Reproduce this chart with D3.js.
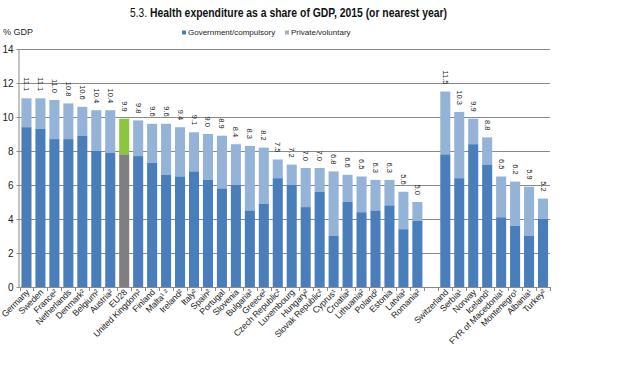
<!DOCTYPE html>
<html><head><meta charset="utf-8">
<script src="https://cdn.jsdelivr.net/npm/d3@7"></script>
<style>
body{margin:0;background:#fff;}
svg{display:block;font-family:"Liberation Sans",Arial,sans-serif;}
</style></head>
<body><svg id="c" width="620" height="368"></svg>
<script>
const categories = ["Germany","Sweden","France²","Netherlands","Denmark²","Belgium²","Austria²","EU28","United Kingdom²","Finland","Malta¹ ²","Ireland²","Italy²","Spain²","Portugal","Slovenia","Bulgaria²","Greece²","Czech Republic²","Luxembourg","Hungary²","Slovak Republic²","Cyprus¹","Croatia²","Lithuania²","Poland²","Estonia","Latvia²","Romania²","","Switzerland","Serbia¹","Norway","Iceland¹","FYR of Macedonia¹","Montenegro¹","Albania¹","Turkey²"];
const totals = [11.1,11.1,11.0,10.8,10.6,10.4,10.4,9.9,9.8,9.6,9.6,9.4,9.1,9.0,8.9,8.4,8.3,8.2,7.5,7.2,7.0,7.0,6.8,6.6,6.5,6.3,6.3,5.6,5.0,null,11.5,10.3,9.9,8.8,6.5,6.2,5.9,5.2];
const government = [9.4,9.3,8.7,8.7,8.9,8.0,7.9,7.8,7.7,7.3,6.6,6.5,6.8,6.3,5.8,6.0,4.5,4.9,6.4,6.0,4.7,5.6,3.0,5.0,4.4,4.5,4.8,3.4,3.9,null,7.8,6.4,8.4,7.2,4.1,3.6,3.0,4.0];
const yTicks = [0,2,4,6,8,10,12,14];
const seriesNames = ["Government/compulsory","Private/voluntary"];
const titleNum = "5.3.";
const titleText = "Health expenditure as a share of GDP, 2015 (or nearest year)";

const C = {gov:"#4a7ebb", priv:"#95b3d7", euGov:"#7f7f7f", euPriv:"#8cc63f", grid:"#8a8a8a", text:"#222"};
const svg = d3.select("#c");
const L = 19.5, R = 550, T = 49, B = 287;
const x = d3.scaleBand().domain(d3.range(categories.length)).range([L,R]).paddingInner(0.28).paddingOuter(0.14);
const y = d3.scaleLinear().domain([0,14]).range([B,T]);

// title
svg.append("text").attr("x",130).attr("y",17).attr("font-size",12.5)
  .attr("textLength",17).attr("lengthAdjust","spacingAndGlyphs").attr("fill","#111").text(titleNum);
svg.append("text").attr("x",150).attr("y",17).attr("font-size",12.5).attr("font-weight","bold")
  .attr("textLength",297).attr("lengthAdjust","spacingAndGlyphs").attr("fill","#111").text(titleText);

svg.append("text").attr("x",3).attr("y",35).attr("font-size",9).attr("fill",C.text).text("% GDP");

// legend
const lg = [{n:seriesNames[0],c:C.gov,x:182},{n:seriesNames[1],c:C.priv,x:285}];
lg.forEach(d=>{
  svg.append("rect").attr("x",d.x).attr("y",30.5).attr("width",4).attr("height",4).attr("fill",d.c);
  svg.append("text").attr("x",d.x+6).attr("y",35).attr("font-size",8).attr("fill",C.text).text(d.n);
});

// gridlines
svg.append("g").selectAll("line").data(yTicks.filter(v=>v>0)).join("line")
  .attr("x1",L).attr("x2",R).attr("y1",d=>Math.round(y(d))+0.5).attr("y2",d=>Math.round(y(d))+0.5)
  .attr("stroke",C.grid).attr("stroke-width",1);

// bars
const idx = d3.range(categories.length).filter(i=>totals[i]!=null);
const g = svg.append("g");
g.selectAll("rect.p").data(idx).join("rect")
  .attr("x",i=>x(i)).attr("width",x.bandwidth())
  .attr("y",i=>y(totals[i])).attr("height",i=>y(government[i])-y(totals[i]))
  .attr("fill",i=>categories[i]==="EU28"?C.euPriv:C.priv);
g.selectAll("rect.g").data(idx).join("rect")
  .attr("x",i=>x(i)).attr("width",x.bandwidth())
  .attr("y",i=>y(government[i])).attr("height",i=>y(0)-y(government[i]))
  .attr("fill",i=>categories[i]==="EU28"?C.euGov:C.gov);

// value labels
g.selectAll("text.v").data(idx).join("text")
  .attr("transform",i=>`translate(${x(i)+x.bandwidth()/2-2.5},${y(totals[i])-7}) rotate(90)`)
  .attr("text-anchor","end").attr("font-size",7.5).attr("fill",C.text)
  .text(i=>totals[i].toFixed(1));

// y axis
const ya = svg.append("g").attr("transform",`translate(${L},0)`)
  .call(d3.axisLeft(y).tickValues(yTicks).tickSize(3).tickPadding(3).tickFormat(d3.format("d")));
ya.select(".domain").attr("stroke",C.grid).attr("d",`M-0.5,${T}V${B}`);
ya.selectAll(".tick line").attr("stroke",C.grid);
ya.selectAll(".tick text").attr("font-size",10).attr("fill",C.text).attr("font-family","'Liberation Sans',Arial,sans-serif");

// x axis
svg.append("line").attr("x1",L).attr("x2",R).attr("y1",B+0.5).attr("y2",B+0.5).attr("stroke",C.grid);
const step = x.step();
svg.append("g").selectAll("line").data(d3.range(categories.length+1)).join("line")
  .attr("x1",i=>Math.round(x(0)-x.paddingInner()*step/2+i*step)+0.5)
  .attr("x2",i=>Math.round(x(0)-x.paddingInner()*step/2+i*step)+0.5)
  .attr("y1",B).attr("y2",B+4).attr("stroke",C.grid);
svg.append("g").selectAll("text").data(d3.range(categories.length)).join("text")
  .attr("transform",i=>`translate(${x(i)+x.bandwidth()/2+3.5},${B+6}) rotate(-45)`)
  .attr("text-anchor","end").attr("font-size",8.8).attr("letter-spacing",-0.15).attr("fill",C.text)
  .text(i=>categories[i]);
</script></body></html>
